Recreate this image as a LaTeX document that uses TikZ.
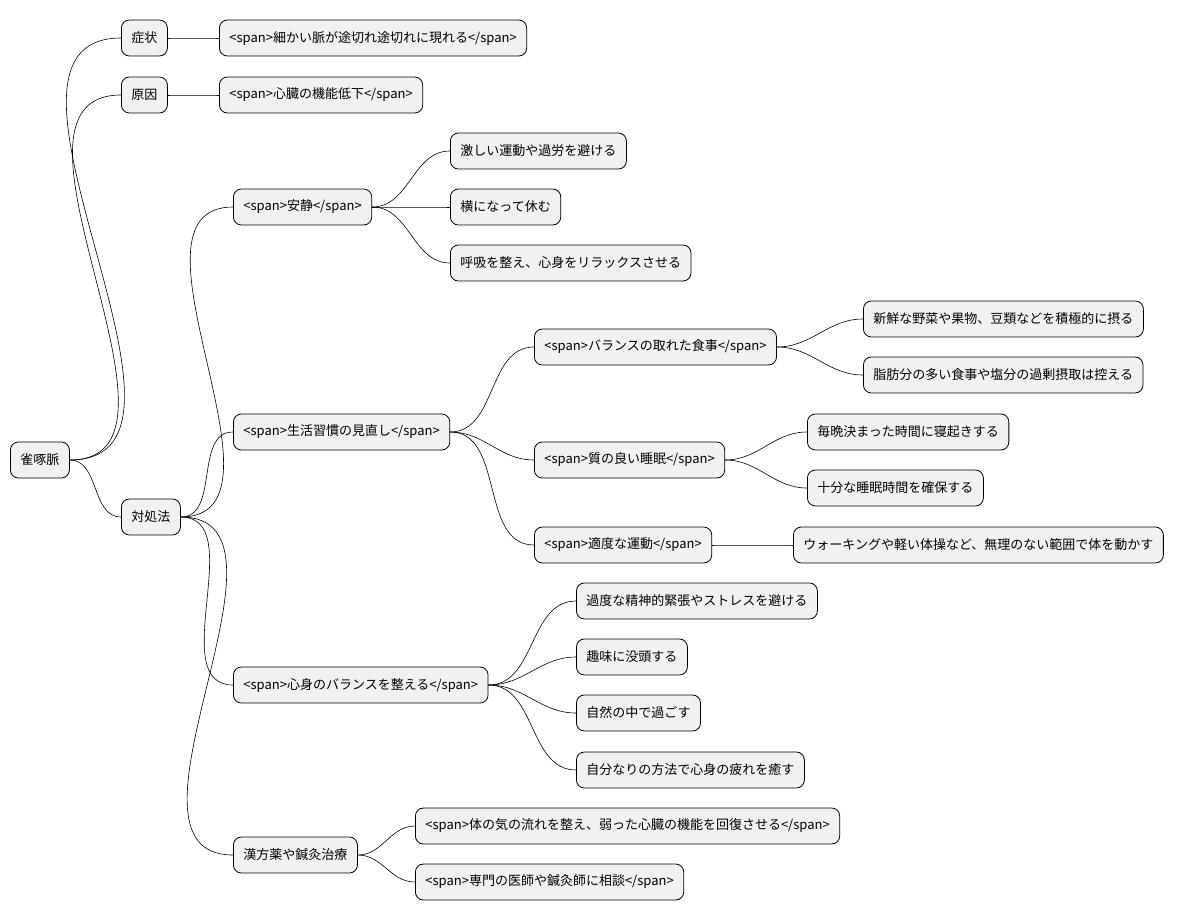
\documentclass[tikz,border=0pt]{standalone}
\usepackage{fontspec}
\setmainfont{Noto Sans CJK JP}
\begin{document}
\begin{tikzpicture}[x=1pt,y=-1pt,
  mm/.style={draw=black,fill=black!5.5,rounded corners=8pt,anchor=west,minimum height=36pt,inner xsep=10pt,font=\fontsize{13}{15}\selectfont,line width=0.8pt},
  ed/.style={line width=0.6pt}]
\useasboundingbox (0,0) rectangle (1202,921);
\node[mm] (r) at (10,460) {雀啄脈};
\node[mm] (s) at (121,38) {症状};
\node[mm] (g) at (121,95) {原因};
\node[mm] (t) at (121,517) {対処法};
\node[mm] (s1) at (219,38) {<span>細かい脈が途切れ途切れに現れる</span>};
\node[mm] (g1) at (219,95) {<span>心臓の機能低下</span>};
\node[mm] (a) at (233,207) {<span>安静</span>};
\node[mm] (b) at (233,432) {<span>生活習慣の見直し</span>};
\node[mm] (c) at (233,685) {<span>心身のバランスを整える</span>};
\node[mm] (d) at (233,855) {漢方薬や鍼灸治療};
\node[mm] (a1) at (450,151) {激しい運動や過労を避ける};
\node[mm] (a2) at (450,207) {横になって休む};
\node[mm] (a3) at (450,263) {呼吸を整え、心身をリラックスさせる};
\node[mm] (b1) at (534,347) {<span>バランスの取れた食事</span>};
\node[mm] (b2) at (534,460) {<span>質の良い睡眠</span>};
\node[mm] (b3) at (534,545) {<span>適度な運動</span>};
\node[mm] (b11) at (863,319) {新鮮な野菜や果物、豆類などを積極的に摂る};
\node[mm] (b12) at (863,375) {脂肪分の多い食事や塩分の過剰摂取は控える};
\node[mm] (b21) at (807,432) {毎晩決まった時間に寝起きする};
\node[mm] (b22) at (807,488) {十分な睡眠時間を確保する};
\node[mm] (b31) at (793,545) {ウォーキングや軽い体操など、無理のない範囲で体を動かす};
\node[mm] (c1) at (576,601) {過度な精神的緊張やストレスを避ける};
\node[mm] (c2) at (576,657) {趣味に没頭する};
\node[mm] (c3) at (576,713) {自然の中で過ごす};
\node[mm] (c4) at (576,770) {自分なりの方法で心身の疲れを癒す};
\node[mm] (d1) at (415,826) {<span>体の気の流れを整え、弱った心臓の機能を回復させる</span>};
\node[mm] (d2) at (415,882) {<span>専門の医師や鍼灸師に相談</span>};
\foreach \p/\c in {r/s,r/g,r/t,s/s1,g/g1,t/a,t/b,t/c,t/d,a/a1,a/a2,a/a3,b/b1,b/b2,b/b3,b1/b11,b1/b12,b2/b21,b2/b22,b3/b31,c/c1,c/c2,c/c3,c/c4,d/d1,d/d2}
  \draw[ed] (\p.east) to[out=0,in=180] (\c.west);
\end{tikzpicture}
\end{document}
